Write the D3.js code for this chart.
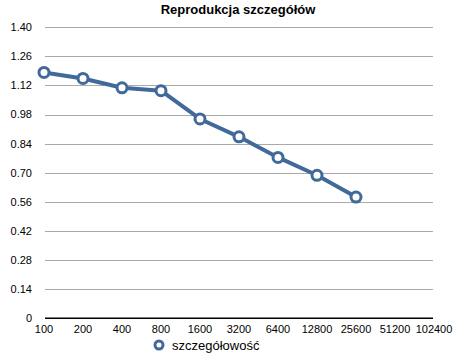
<!DOCTYPE html>
<html>
<head>
<meta charset="utf-8">
<script src="https://cdn.jsdelivr.net/npm/d3@7"></script>
<style>
  body { margin: 0; background: #fff; }
  svg { font-family: "Liberation Sans", Arial, sans-serif; }
</style>
</head>
<body>
<svg id="svg" width="460" height="362"></svg>
<script>
// chart data
const categories = ["100", "200", "400", "800", "1600", "3200", "6400", "12800", "25600", "51200", "102400"];
const seriesName = "szczegółowość";
const seriesValues = [1.183, 1.154, 1.109, 1.095, 0.959, 0.873, 0.774, 0.688, 0.583];
const yTicks = [0, 0.14, 0.28, 0.42, 0.56, 0.70, 0.84, 0.98, 1.12, 1.26, 1.40];
const title = "Reprodukcja szczegółów";

let svg = d3.select("#svg");
const blue = "#41699a";

// scales
let xScale = d3.scalePoint()
    .domain(categories)
    .range([44, 434]);

let yScale = d3.scaleLinear()
    .domain([0, 1.4])
    .range([318.3, 27.3]);

// grid lines
svg.append("g")
    .selectAll("line")
    .data(yTicks.filter(d => d > 0))
    .enter().append("line")
    .attr("x1", 45)
    .attr("x2", 433)
    .attr("y1", d => Math.round(yScale(d)) + 0.5)
    .attr("y2", d => Math.round(yScale(d)) + 0.5)
    .attr("stroke", "#aaaaaa")
    .attr("stroke-width", 1);

// y labels
svg.append("g")
    .selectAll("text")
    .data(yTicks)
    .enter().append("text")
    .attr("x", 32)
    .attr("y", d => yScale(d))
    .attr("dy", "0.35em")
    .attr("text-anchor", "end")
    .style("font-size", "11px")
    .attr("fill", "#000")
    .text(d => d === 0 ? "0" : d.toFixed(2));

// x axis line
svg.append("line")
    .attr("x1", 45)
    .attr("x2", 433)
    .attr("y1", yScale(0))
    .attr("y2", yScale(0))
    .attr("stroke", "#000")
    .attr("stroke-width", 1.6);

// x labels
svg.append("g")
    .selectAll("text")
    .data(categories)
    .enter().append("text")
    .attr("x", d => xScale(d))
    .attr("y", 333)
    .attr("text-anchor", "middle")
    .style("font-size", "11px")
    .attr("fill", "#000")
    .text(d => d);

// the line
let points = seriesValues.map((v, i) => ({ cat: categories[i], value: v }));

let line = d3.line()
    .x(d => xScale(d.cat))
    .y(d => yScale(d.value));

svg.append("path")
    .datum(points)
    .attr("d", line)
    .attr("fill", "none")
    .attr("stroke", blue)
    .attr("stroke-width", 4)
    .attr("stroke-linejoin", "round");

svg.append("g")
    .selectAll("circle")
    .data(points)
    .enter().append("circle")
    .attr("cx", d => xScale(d.cat))
    .attr("cy", d => yScale(d.value))
    .attr("r", 5)
    .attr("fill", "#fff")
    .attr("stroke", blue)
    .attr("stroke-width", 3);

// title
svg.append("text")
    .attr("x", 238)
    .attr("y", 14)
    .attr("text-anchor", "middle")
    .style("font-size", "13px")
    .style("font-weight", "bold")
    .attr("fill", "#000")
    .text(title);

// legend
svg.append("circle")
    .attr("cx", 159)
    .attr("cy", 345)
    .attr("r", 4)
    .attr("fill", "#fff")
    .attr("stroke", blue)
    .attr("stroke-width", 3);

svg.append("text")
    .attr("x", 172)
    .attr("y", 350)
    .style("font-size", "13px")
    .attr("fill", "#000")
    .text(seriesName);
</script>
</body>
</html>
